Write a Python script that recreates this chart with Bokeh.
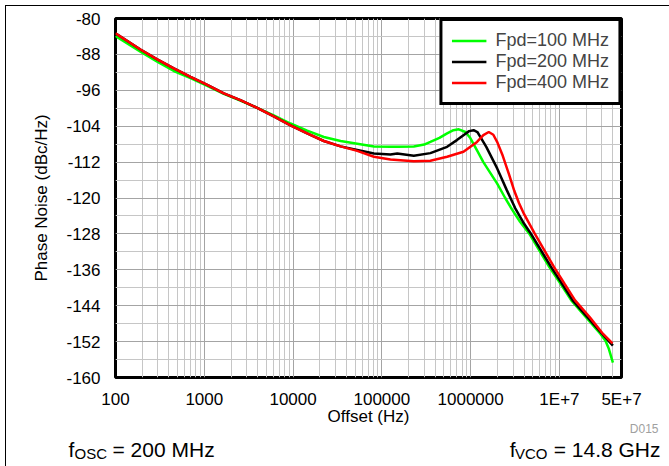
from bokeh.plotting import figure
from bokeh.layouts import column
from bokeh.models import FixedTicker, Range1d
from bokeh.core.properties import value
from bokeh.embed import file_html
from bokeh.resources import INLINE

# ---- data ----
f_100 = [100, 191, 295, 454, 700, 1080, 1660, 2550, 3940, 6060, 9350, 14400, 22200, 34300,
         52800, 81400, 125000, 149000, 229000, 300000, 352000, 445000, 543000, 640000, 735000,
         874000, 995000, 1180000, 1390000, 1990000, 2450000, 2930000, 3600000, 4550000, 7700000,
         10300000, 13600000, 20000000, 29000000, 33000000, 36000000, 40000000]
pn_100 = [-83.9, -87.4, -89.6, -91.7, -93.3, -95.0, -96.8, -98.3, -99.9, -101.6, -103.4, -105.0,
          -106.4, -107.3, -107.9, -108.5, -108.6, -108.6, -108.5, -108.1, -107.5, -106.6, -105.6,
          -104.9, -104.7, -105.3, -106.7, -109.4, -112.0, -116.8, -120.0, -122.6, -125.3, -127.9,
          -135.4, -139.1, -142.8, -146.6, -150.3, -151.8, -153.6, -156.7]

f_200 = [100, 191, 295, 454, 700, 1080, 1660, 2550, 3940, 6060, 9350, 14400, 22200, 34300,
         52800, 81400, 125000, 149000, 229000, 352000, 543000, 700000, 830000, 960000, 1080000,
         1190000, 1270000, 1500000, 1990000, 2560000, 3180000, 3900000, 4750000, 8070000,
         10700000, 14100000, 20800000, 30300000, 40000000]
pn_200 = [-83.3, -86.9, -89.1, -91.1, -93.0, -94.8, -96.7, -98.2, -99.9, -101.8, -103.8, -105.6,
          -107.3, -108.5, -109.3, -110.1, -110.3, -110.1, -110.6, -110.0, -108.6, -107.1, -106.0,
          -105.1, -104.9, -105.3, -106.2, -108.6, -113.4, -118.3, -122.3, -125.4, -127.9, -135.4,
          -139.1, -142.8, -146.6, -150.3, -152.9]

f_400 = [100, 191, 295, 454, 700, 1080, 1660, 2550, 3940, 6060, 9350, 14400, 22200, 34300,
         52800, 81400, 125000, 229000, 352000, 543000, 830000, 1180000, 1390000, 1600000,
         1800000, 2000000, 2300000, 2700000, 3100000, 3500000, 4000000, 5250000, 8700000,
         11400000, 15000000, 22000000, 31000000, 39600000]
pn_400 = [-83.3, -86.9, -89.1, -91.1, -93.0, -94.8, -96.7, -98.2, -99.9, -101.8, -103.8, -105.6,
          -107.3, -108.5, -109.5, -110.8, -111.4, -111.8, -111.7, -110.8, -109.7, -107.5, -106.0,
          -105.3, -105.9, -107.6, -110.6, -114.7, -118.4, -121.1, -123.6, -127.9, -135.4, -139.1,
          -142.8, -146.6, -150.3, -152.4]

series_names = ["Fpd=100 MHz", "Fpd=200 MHz", "Fpd=400 MHz"]
series_colors = ["#00ff00", "#000000", "#ff0000"]

x_tick_values = [1e2, 1e3, 1e4, 1e5, 1e6, 1e7, 5e7]
x_tick_labels = ["100", "1000", "10000", "100000", "1000000", "1E+7", "5E+7"]
y_tick_values = list(range(-160, -79, 8))
y_tick_labels = [str(v) for v in y_tick_values]
y_minor_values = list(range(-156, -80, 8))
x_minor_values = [m * 10 ** k for k in range(2, 8) for m in range(2, 10) if m * 10 ** k < 5e7]

# footer notes (page pixel positions)
footer_texts = ["f", "OSC", "= 200 MHz", "f", "VCO", "= 14.8 GHz", "D015"]
footer_sizes = ["21px", "15px", "21px", "21px", "15px", "21px", "12px"]
footer_x = [68, 74, 112, 515, 547, 660, 658]
footer_y = [449, 453, 449, 449, 453, 449, 428]
footer_align = ["left", "left", "left", "right", "right", "right", "right"]
footer_color = ["black", "black", "black", "black", "black", "black", "#a0a0a0"]

FONT = "Liberation Sans"
W, H = 669, 466
FOOT = 50

p = figure(width=W, height=H, x_axis_type="log", x_range=(100, 5e7), y_range=(-160, -80),
           output_backend="svg", toolbar_location=None,
           min_border_left=115, min_border_right=48, min_border_top=18, min_border_bottom=89)
p.frame_align = False
p.border_fill_color = None
p.background_fill_color = "white"

for fx, pn, name, col in zip([f_100, f_200, f_400], [pn_100, pn_200, pn_400], series_names, series_colors):
    p.line(fx, pn, line_color=col, line_width=2.5, legend_label=name)

p.xaxis.ticker = FixedTicker(ticks=x_tick_values, minor_ticks=x_minor_values)
p.yaxis.ticker = FixedTicker(ticks=y_tick_values, minor_ticks=y_minor_values)
p.xaxis.major_label_overrides = {v: l for v, l in zip(x_tick_values, x_tick_labels)}
p.yaxis.major_label_overrides = {v: l for v, l in zip(y_tick_values, y_tick_labels)}

for g in (p.xgrid, p.ygrid):
    g.grid_line_color = "#a4a4a4"
    g.grid_line_width = 1
    g.minor_grid_line_color = "#c6c6c6"
    g.minor_grid_line_width = 1

p.axis.major_tick_line_color = None
p.axis.minor_tick_line_color = None
p.axis.axis_line_color = None
p.axis.major_label_text_font = FONT
p.axis.major_label_text_font_size = "17px"
p.axis.major_label_text_color = "black"
p.axis.axis_label_text_font = FONT
p.axis.axis_label_text_font_size = "17px"
p.axis.axis_label_text_font_style = "normal"
p.axis.axis_label_text_color = "black"
p.xaxis.axis_label = "Offset (Hz)"
p.yaxis.axis_label = "Phase Noise (dBc/Hz)"
p.xaxis.major_label_standoff = 6
p.xaxis.axis_label_standoff = -5
p.yaxis.major_label_standoff = 9
p.yaxis.axis_label_standoff = 12

p.outline_line_color = "black"
p.outline_line_width = 3
p.outline_line_alpha = 1.0

lg = p.legend[0]
lg.location = "top_right"
lg.margin = 0
lg.padding = 9
lg.spacing = 0
lg.border_line_color = "black"
lg.border_line_width = 3
lg.border_line_alpha = 1.0
lg.background_fill_color = "white"
lg.background_fill_alpha = 1.0
lg.glyph_width = 35
lg.glyph_height = 21
lg.label_height = 21
lg.label_standoff = 9
lg.label_text_font = FONT
lg.label_text_font_size = "18px"

# transparent footer strip laid over the bottom of the chart, in page pixels
q = figure(width=W, height=FOOT, x_range=Range1d(0, W), y_range=Range1d(H, H - FOOT),
           output_backend="svg", toolbar_location=None,
           x_axis_location=None, y_axis_location=None,
           min_border_left=0, min_border_right=0, min_border_top=0, min_border_bottom=0)
q.frame_align = False
q.margin = (-FOOT, 0, 0, 0)
q.border_fill_color = None
q.background_fill_color = None
q.outline_line_color = None
q.xgrid.visible = False
q.ygrid.visible = False
q.text(x="x", y="y", text="text", text_font=value(FONT), text_font_size="size",
       text_align="align", text_color="color", text_baseline="alphabetic",
       source=dict(x=footer_x, y=footer_y, text=footer_texts, size=footer_sizes,
                   align=footer_align, color=footer_color))

layout = column(p, q, spacing=0)
layout.styles = {
    "background": "linear-gradient(#000, #000) 5px 5px / 1px 100% no-repeat, "
                  "linear-gradient(#000, #000) 5px 5px / 100% 1px no-repeat, #ffffff",
}

open("out.html", "w").write(file_html(layout, INLINE))
